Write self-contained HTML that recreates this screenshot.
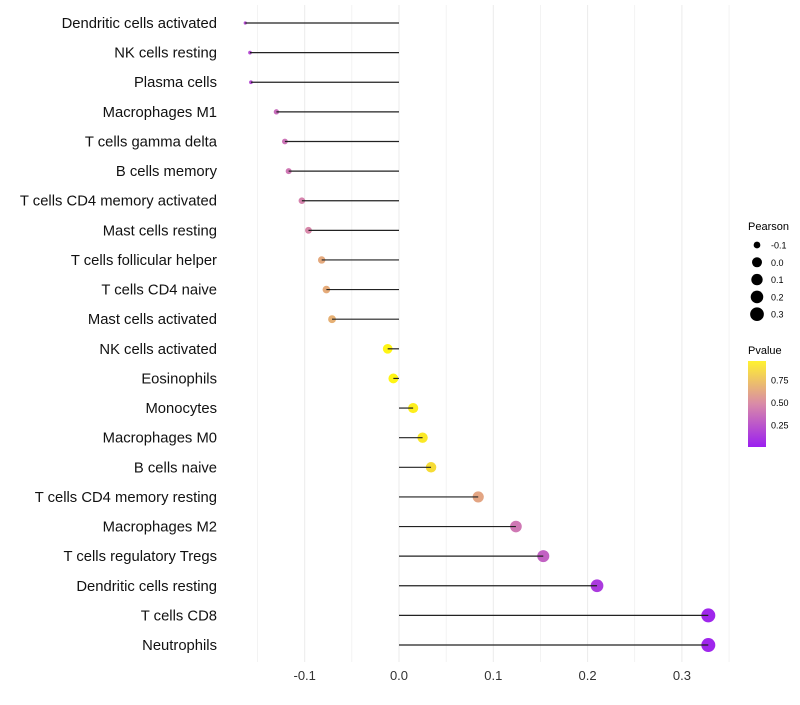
<!DOCTYPE html>
<html><head><meta charset="utf-8"><style>
body{margin:0;background:#fff;font-family:"Liberation Sans",sans-serif}
</style></head><body>
<svg id="chart" width="800" height="700" xmlns="http://www.w3.org/2000/svg">
<defs><linearGradient id="pg" x1="0" y1="1" x2="0" y2="0">
<stop offset="0" stop-color="#9b1ff0"/><stop offset="0.5" stop-color="#d98aa8"/><stop offset="1" stop-color="#fff230"/></linearGradient></defs>
<g id="grid"></g><g id="dots"></g><g id="marks"></g><g id="labels"></g>
<g font-size="10">
<text x="748" y="230" font-size="11">Pearson</text>
<text x="748" y="354" font-size="11">Pvalue</text>
<rect x="748" y="361" width="18" height="86" fill="url(#pg)"/>
<g id="leg"></g>
</g>
</svg>
<script>
const categories=["Dendritic cells activated","NK cells resting","Plasma cells","Macrophages M1","T cells gamma delta","B cells memory","T cells CD4 memory activated","Mast cells resting","T cells follicular helper","T cells CD4 naive","Mast cells activated","NK cells activated","Eosinophils","Monocytes","Macrophages M0","B cells naive","T cells CD4 memory resting","Macrophages M2","T cells regulatory  Tregs","Dendritic cells resting","T cells CD8","Neutrophils"];
const pearson=[-0.163,-0.158,-0.157,-0.130,-0.121,-0.117,-0.103,-0.096,-0.082,-0.077,-0.071,-0.012,-0.006,0.015,0.025,0.034,0.084,0.124,0.153,0.210,0.328,0.328];
const pvalue=[0.2,0.2,0.2,0.35,0.38,0.4,0.45,0.47,0.62,0.63,0.65,0.97,0.97,0.93,0.9,0.85,0.6,0.4,0.3,0.12,0.03,0.03];
const xTicks=[-0.1,0,0.1,0.2,0.3];
const xTickLabels=["-0.1","0.0","0.1","0.2","0.3"];
const legPearson=[-0.1,0,0.1,0.2,0.3];
const legPearsonLabels=["-0.1","0.0","0.1","0.2","0.3"];
const legP=[0.25,0.5,0.75];
const NS="http://www.w3.org/2000/svg";
const x=v=>399+v*943;
const y=i=>23+i*29.62;
const r=p=>Math.sqrt(Math.max(2.5,p<0?25+137*p:25+73*p));
function lerp(a,b,t){return a.map((v,k)=>Math.round(v+(b[k]-v)*t));}
function col(p){const s=[[155,31,240],[217,138,168],[255,245,20]];p=Math.max(0,Math.min(1,p/0.96));
const c=p<0.5?lerp(s[0],s[1],p*2):lerp(s[1],s[2],(p-0.5)*2);return `rgb(${c})`;}
function mk(tag,at,parent){const e=document.createElementNS(NS,tag);for(const k in at)e.setAttribute(k,at[k]);parent.appendChild(e);return e;}
const grid=document.getElementById('grid'),dots=document.getElementById('dots'),marks=document.getElementById('marks'),labels=document.getElementById('labels'),leg=document.getElementById('leg');
for(let v=-0.15;v<0.36;v+=0.05){const g=mk('line',{x1:x(v),x2:x(v),y1:5,y2:662,stroke:'#ebebeb','stroke-width':Math.abs(Math.round(v*20))%2?0.6:1},grid);

}
xTicks.forEach((t,i)=>{const e=mk('text',{x:x(t),y:680,'text-anchor':'middle','font-size':13,fill:'#333'},labels);e.textContent=xTickLabels[i];

});
categories.forEach((c,i)=>{
const t=mk('text',{x:217,y:y(i)+5,'text-anchor':'end','font-size':14.8,fill:'#111'},labels);t.textContent=c;


const d=mk('circle',{cx:x(pearson[i]),cy:y(i),r:r(pearson[i]),fill:col(pvalue[i])},dots);


const l=mk('line',{x1:x(0),x2:x(pearson[i]),y1:y(i),y2:y(i),stroke:'#222','stroke-width':1.2},marks);


});
legPearson.forEach((v,i)=>{const cy=245+i*17.3;
const d=mk('circle',{cx:757,cy:cy,r:r(v),fill:'#000'},leg);


const t=mk('text',{x:771,y:cy+3.5,'font-size':9},leg);t.textContent=legPearsonLabels[i];

});
legP.forEach(p=>{const yy=447.5-p*90;
const t=mk('text',{x:771,y:yy+3.5,'font-size':9},leg);t.textContent=p.toFixed(2);

});
</script>
</body></html>
